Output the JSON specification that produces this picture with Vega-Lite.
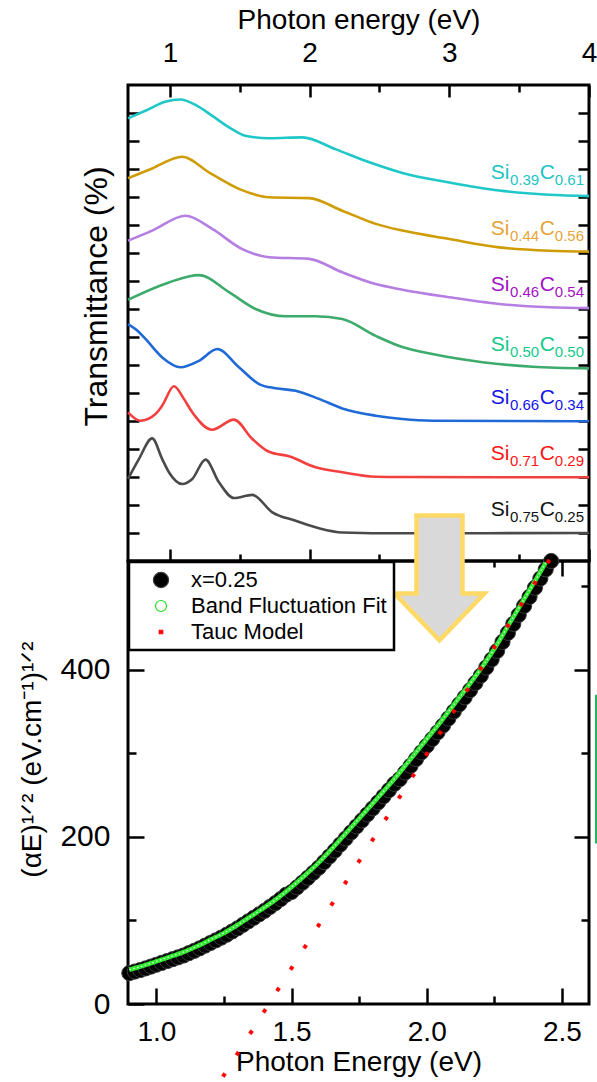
{
  "$schema": "https://vega.github.io/schema/vega-lite/v6.json",
  "padding": {"left": 17, "top": 4, "right": 0, "bottom": 0},
  "spacing": 0,
  "bounds": "flush",
  "datasets": {
    "trans": [
      {"s":"0.39","c":"0.61","E":0.70,"T":15.81},{"s":"0.39","c":"0.61","E":0.825,"T":16.08},{"s":"0.39","c":"0.61","E":0.966,"T":16.40},{"s":"0.39","c":"0.61","E":1.074,"T":16.48},{"s":"0.39","c":"0.61","E":1.183,"T":16.29},{"s":"0.39","c":"0.61","E":1.303,"T":15.90},{"s":"0.39","c":"0.61","E":1.423,"T":15.49},{"s":"0.39","c":"0.61","E":1.539,"T":15.19},{"s":"0.39","c":"0.61","E":1.711,"T":15.10},{"s":"0.39","c":"0.61","E":1.948,"T":15.13},{"s":"0.39","c":"0.61","E":2.184,"T":14.71},{"s":"0.39","c":"0.61","E":2.428,"T":14.24},{"s":"0.39","c":"0.61","E":2.664,"T":13.86},{"s":"0.39","c":"0.61","E":3.0,"T":13.52},{"s":"0.39","c":"0.61","E":3.357,"T":13.23},{"s":"0.39","c":"0.61","E":3.715,"T":13.08},{"s":"0.39","c":"0.61","E":4,"T":13.03},
      {"s":"0.44","c":"0.56","E":0.70,"T":13.67},{"s":"0.44","c":"0.56","E":0.873,"T":14.02},{"s":"0.44","c":"0.56","E":1.088,"T":14.44},{"s":"0.44","c":"0.56","E":1.279,"T":13.88},{"s":"0.44","c":"0.56","E":1.494,"T":13.29},{"s":"0.44","c":"0.56","E":1.709,"T":12.99},{"s":"0.44","c":"0.56","E":1.996,"T":12.96},{"s":"0.44","c":"0.56","E":2.234,"T":12.51},{"s":"0.44","c":"0.56","E":2.473,"T":12.04},{"s":"0.44","c":"0.56","E":2.664,"T":11.80},{"s":"0.44","c":"0.56","E":3.0,"T":11.50},{"s":"0.44","c":"0.56","E":3.357,"T":11.20},{"s":"0.44","c":"0.56","E":3.715,"T":11.08},{"s":"0.44","c":"0.56","E":4,"T":11.05},
      {"s":"0.46","c":"0.54","E":0.70,"T":11.44},{"s":"0.46","c":"0.54","E":0.873,"T":11.80},{"s":"0.46","c":"0.54","E":1.112,"T":12.33},{"s":"0.46","c":"0.54","E":1.303,"T":11.86},{"s":"0.46","c":"0.54","E":1.518,"T":11.14},{"s":"0.46","c":"0.54","E":1.709,"T":10.85},{"s":"0.46","c":"0.54","E":1.996,"T":10.79},{"s":"0.46","c":"0.54","E":2.234,"T":10.31},{"s":"0.46","c":"0.54","E":2.473,"T":9.89},{"s":"0.46","c":"0.54","E":2.664,"T":9.69},{"s":"0.46","c":"0.54","E":3.0,"T":9.42},{"s":"0.46","c":"0.54","E":3.357,"T":9.18},{"s":"0.46","c":"0.54","E":3.715,"T":9.06},{"s":"0.46","c":"0.54","E":4,"T":9.03},
      {"s":"0.50","c":"0.50","E":0.70,"T":9.33},{"s":"0.50","c":"0.50","E":0.993,"T":9.95},{"s":"0.50","c":"0.50","E":1.208,"T":10.21},{"s":"0.50","c":"0.50","E":1.423,"T":9.60},{"s":"0.50","c":"0.50","E":1.613,"T":9.00},{"s":"0.50","c":"0.50","E":1.828,"T":8.74},{"s":"0.50","c":"0.50","E":2.043,"T":8.74},{"s":"0.50","c":"0.50","E":2.234,"T":8.64},{"s":"0.50","c":"0.50","E":2.473,"T":8.04},{"s":"0.50","c":"0.50","E":2.664,"T":7.64},{"s":"0.50","c":"0.50","E":2.879,"T":7.39},{"s":"0.50","c":"0.50","E":3.237,"T":7.10},{"s":"0.50","c":"0.50","E":3.595,"T":6.94},{"s":"0.50","c":"0.50","E":4,"T":6.88},
      {"s":"0.66","c":"0.34","E":0.70,"T":8.46},{"s":"0.66","c":"0.34","E":0.766,"T":8.23},{"s":"0.66","c":"0.34","E":0.825,"T":7.93},{"s":"0.66","c":"0.34","E":0.945,"T":7.27},{"s":"0.66","c":"0.34","E":1.076,"T":6.92},{"s":"0.66","c":"0.34","E":1.208,"T":7.15},{"s":"0.66","c":"0.34","E":1.339,"T":7.57},{"s":"0.66","c":"0.34","E":1.494,"T":6.92},{"s":"0.66","c":"0.34","E":1.638,"T":6.32},{"s":"0.66","c":"0.34","E":1.756,"T":6.17},{"s":"0.66","c":"0.34","E":1.90,"T":6.08},{"s":"0.66","c":"0.34","E":2.067,"T":5.79},{"s":"0.66","c":"0.34","E":2.234,"T":5.45},{"s":"0.66","c":"0.34","E":2.473,"T":5.19},{"s":"0.66","c":"0.34","E":2.664,"T":5.07},{"s":"0.66","c":"0.34","E":2.879,"T":5.01},{"s":"0.66","c":"0.34","E":4,"T":4.99},
      {"s":"0.71","c":"0.29","E":0.70,"T":5.31},{"s":"0.71","c":"0.29","E":0.789,"T":5.01},{"s":"0.71","c":"0.29","E":0.897,"T":5.25},{"s":"0.71","c":"0.29","E":0.945,"T":5.55},{"s":"0.71","c":"0.29","E":1.029,"T":6.24},{"s":"0.71","c":"0.29","E":1.10,"T":5.79},{"s":"0.71","c":"0.29","E":1.16,"T":5.31},{"s":"0.71","c":"0.29","E":1.303,"T":4.69},{"s":"0.71","c":"0.29","E":1.458,"T":5.05},{"s":"0.71","c":"0.29","E":1.59,"T":4.36},{"s":"0.71","c":"0.29","E":1.709,"T":3.90},{"s":"0.71","c":"0.29","E":1.852,"T":3.74},{"s":"0.71","c":"0.29","E":2.043,"T":3.35},{"s":"0.71","c":"0.29","E":2.234,"T":3.17},{"s":"0.71","c":"0.29","E":2.473,"T":3.01},{"s":"0.71","c":"0.29","E":2.664,"T":3.00},{"s":"0.71","c":"0.29","E":4,"T":2.99},
      {"s":"0.75","c":"0.25","E":0.70,"T":2.93},{"s":"0.75","c":"0.25","E":0.778,"T":3.64},{"s":"0.75","c":"0.25","E":0.873,"T":4.38},{"s":"0.75","c":"0.25","E":0.945,"T":3.64},{"s":"0.75","c":"0.25","E":0.993,"T":3.17},{"s":"0.75","c":"0.25","E":1.088,"T":2.75},{"s":"0.75","c":"0.25","E":1.16,"T":2.93},{"s":"0.75","c":"0.25","E":1.255,"T":3.62},{"s":"0.75","c":"0.25","E":1.351,"T":2.81},{"s":"0.75","c":"0.25","E":1.458,"T":2.25},{"s":"0.75","c":"0.25","E":1.59,"T":2.36},{"s":"0.75","c":"0.25","E":1.733,"T":1.74},{"s":"0.75","c":"0.25","E":1.90,"T":1.44},{"s":"0.75","c":"0.25","E":2.067,"T":1.17},{"s":"0.75","c":"0.25","E":2.234,"T":1.02},{"s":"0.75","c":"0.25","E":2.664,"T":0.99},{"s":"0.75","c":"0.25","E":4,"T":1.00}
    ],
    "xdata": [
      {"series":"x=0.25","E":0.90,"A":37},{"series":"x=0.25","E":0.92,"A":38.8},{"series":"x=0.25","E":0.94,"A":40.6},{"series":"x=0.25","E":0.96,"A":42.6},{"series":"x=0.25","E":0.98,"A":44.8},{"series":"x=0.25","E":1.00,"A":47},{"series":"x=0.25","E":1.02,"A":49.2},{"series":"x=0.25","E":1.04,"A":51.4},{"series":"x=0.25","E":1.06,"A":53.6},{"series":"x=0.25","E":1.08,"A":55.8},{"series":"x=0.25","E":1.10,"A":58},{"series":"x=0.25","E":1.12,"A":60.8},{"series":"x=0.25","E":1.14,"A":63.6},{"series":"x=0.25","E":1.16,"A":66.6},{"series":"x=0.25","E":1.18,"A":69.8},{"series":"x=0.25","E":1.20,"A":73},{"series":"x=0.25","E":1.22,"A":76.2},{"series":"x=0.25","E":1.24,"A":79.4},{"series":"x=0.25","E":1.26,"A":82.9},{"series":"x=0.25","E":1.28,"A":86.7},{"series":"x=0.25","E":1.30,"A":90.5},{"series":"x=0.25","E":1.32,"A":94.7},{"series":"x=0.25","E":1.34,"A":98.9},{"series":"x=0.25","E":1.36,"A":103.1},{"series":"x=0.25","E":1.38,"A":107.3},{"series":"x=0.25","E":1.40,"A":111.5},{"series":"x=0.25","E":1.42,"A":116.1},{"series":"x=0.25","E":1.44,"A":120.7},{"series":"x=0.25","E":1.46,"A":125.6},{"series":"x=0.25","E":1.48,"A":130.8},{"series":"x=0.25","E":1.50,"A":134},{"series":"x=0.25","E":1.52,"A":139.6},{"series":"x=0.25","E":1.54,"A":145.2},{"series":"x=0.25","E":1.56,"A":151},{"series":"x=0.25","E":1.58,"A":157},{"series":"x=0.25","E":1.60,"A":163},{"series":"x=0.25","E":1.62,"A":169.8},{"series":"x=0.25","E":1.64,"A":176.6},{"series":"x=0.25","E":1.66,"A":183.6},{"series":"x=0.25","E":1.68,"A":190.8},{"series":"x=0.25","E":1.70,"A":198},{"series":"x=0.25","E":1.72,"A":205.2},{"series":"x=0.25","E":1.74,"A":212.4},{"series":"x=0.25","E":1.76,"A":219.6},{"series":"x=0.25","E":1.78,"A":226.8},{"series":"x=0.25","E":1.80,"A":234},{"series":"x=0.25","E":1.82,"A":241.2},{"series":"x=0.25","E":1.84,"A":248.4},{"series":"x=0.25","E":1.86,"A":255.8},{"series":"x=0.25","E":1.88,"A":263.4},{"series":"x=0.25","E":1.90,"A":269},{"series":"x=0.25","E":1.92,"A":277},{"series":"x=0.25","E":1.94,"A":285},{"series":"x=0.25","E":1.96,"A":293},{"series":"x=0.25","E":1.98,"A":301},{"series":"x=0.25","E":2.00,"A":309},{"series":"x=0.25","E":2.02,"A":317},{"series":"x=0.25","E":2.04,"A":325},{"series":"x=0.25","E":2.06,"A":333.2},{"series":"x=0.25","E":2.08,"A":341.6},{"series":"x=0.25","E":2.10,"A":350},{"series":"x=0.25","E":2.12,"A":358.4},{"series":"x=0.25","E":2.14,"A":366.8},{"series":"x=0.25","E":2.16,"A":375.4},{"series":"x=0.25","E":2.18,"A":384.2},{"series":"x=0.25","E":2.20,"A":393},{"series":"x=0.25","E":2.22,"A":402.6},{"series":"x=0.25","E":2.24,"A":412.2},{"series":"x=0.25","E":2.26,"A":422.4},{"series":"x=0.25","E":2.28,"A":433.2},{"series":"x=0.25","E":2.30,"A":444},{"series":"x=0.25","E":2.32,"A":454.8},{"series":"x=0.25","E":2.34,"A":465.6},{"series":"x=0.25","E":2.36,"A":476.4},{"series":"x=0.25","E":2.38,"A":487.2},{"series":"x=0.25","E":2.40,"A":498},{"series":"x=0.25","E":2.42,"A":509},{"series":"x=0.25","E":2.44,"A":520},{"series":"x=0.25","E":2.46,"A":530}
    ],
    "fit": [
      {"E":0.90,"A":41},{"E":0.95,"A":45.5},{"E":1.00,"A":51},{"E":1.05,"A":56.5},{"E":1.10,"A":62},{"E":1.15,"A":69},{"E":1.20,"A":77},{"E":1.25,"A":85},{"E":1.30,"A":94.5},{"E":1.35,"A":105},{"E":1.40,"A":115.5},{"E":1.45,"A":127},{"E":1.50,"A":140},{"E":1.55,"A":154},{"E":1.60,"A":169},{"E":1.65,"A":186},{"E":1.70,"A":204},{"E":1.75,"A":222},{"E":1.80,"A":240},{"E":1.85,"A":258},{"E":1.90,"A":277},{"E":1.95,"A":297},{"E":2.00,"A":317},{"E":2.05,"A":337},{"E":2.10,"A":358},{"E":2.15,"A":379},{"E":2.20,"A":401},{"E":2.25,"A":425},{"E":2.30,"A":452},{"E":2.35,"A":479},{"E":2.40,"A":506},{"E":2.44,"A":528}
    ],
    "tauc": [
      {"series":"Tauc Model","E":1.25,"A":-85.0},{"series":"Tauc Model","E":1.30,"A":-59.4},{"series":"Tauc Model","E":1.35,"A":-33.8},{"series":"Tauc Model","E":1.40,"A":-8.2},{"series":"Tauc Model","E":1.45,"A":17.4},{"series":"Tauc Model","E":1.50,"A":43.0},{"series":"Tauc Model","E":1.55,"A":68.6},{"series":"Tauc Model","E":1.60,"A":94.2},{"series":"Tauc Model","E":1.65,"A":119.8},{"series":"Tauc Model","E":1.70,"A":145.4},{"series":"Tauc Model","E":1.75,"A":171.0},{"series":"Tauc Model","E":1.80,"A":196.6},{"series":"Tauc Model","E":1.85,"A":222.2},{"series":"Tauc Model","E":1.90,"A":247.8},{"series":"Tauc Model","E":1.95,"A":273.4},{"series":"Tauc Model","E":2.00,"A":299.0},{"series":"Tauc Model","E":2.05,"A":324.6},{"series":"Tauc Model","E":2.10,"A":350.2},{"series":"Tauc Model","E":2.15,"A":375.8},{"series":"Tauc Model","E":2.20,"A":401.4},{"series":"Tauc Model","E":2.25,"A":427.0},{"series":"Tauc Model","E":2.30,"A":452.6},{"series":"Tauc Model","E":2.35,"A":478.2},{"series":"Tauc Model","E":2.40,"A":503.8},{"series":"Tauc Model","E":2.45,"A":529.4}
    ]
  },
  "vconcat": [
    {
      "width": 461,
      "height": 476,
      "data": {"name": "trans"},
      "layer": [
        {
          "mark": {"type": "line", "strokeWidth": 2.6, "interpolate": "monotone"},
          "encoding": {
            "x": {"field": "E", "type": "quantitative", "scale": {"domain": [0.7, 4], "nice": false, "zero": false},
                  "axis": {"orient": "top", "values": [1, 2, 3, 4], "format": "d", "tickSize": -12, "labelPadding": 30, "labelFontSize": 28, "title": "Photon energy (eV)", "titleFontSize": 28, "titlePadding": 5}},
            "y": {"field": "T", "type": "quantitative", "scale": {"domain": [0, 17], "nice": false, "zero": false},
                  "axis": {"orient": "left", "values": [1,2,3,4,5,6,7,8,9,10,11,12,13,14,15,16], "labels": false, "tickSize": -11, "title": "Transmittance (%)", "titleFontSize": 32, "titlePadding": 13, "titleY": 211}},
            "color": {"field": "s", "type": "nominal", "scale": {"domain": ["0.39","0.44","0.46","0.50","0.66","0.71","0.75"], "range": ["#1fc7c9","#cf9c06","#b47ee2","#3dab6c","#1f6ad6","#f2403f","#4a4a4a"]}, "legend": null}
          }
        },
        {
          "transform": [{"filter": "datum.E === 4"}],
          "mark": {"type": "text", "text": "Si", "align": "right", "baseline": "alphabetic", "dx": -79.5, "dy": -17, "fontSize": 21, "font": "Liberation Sans"},
          "encoding": {
            "x": {"field": "E", "type": "quantitative", "axis": {"orient": "bottom", "values": [1, 2, 3, 4], "labels": false, "tickSize": -12, "title": null}},
            "y": {"field": "T", "type": "quantitative", "axis": {"orient": "right", "values": [1,2,3,4,5,6,7,8,9,10,11,12,13,14,15,16], "labels": false, "tickSize": -11, "title": null}},
            "color": {"field": "s", "type": "nominal", "scale": {"domain": ["0.39","0.44","0.46","0.50","0.66","0.71","0.75"], "range": ["#1cc4c4","#e6a43a","#a312c4","#14c98a","#1414e6","#ff1414","#111111"]}, "legend": null}
          }
        },
        {
          "transform": [{"filter": "datum.E === 4"}],
          "mark": {"type": "text", "align": "right", "baseline": "alphabetic", "dx": -49.8, "dy": -11, "fontSize": 15, "font": "Liberation Sans"},
          "encoding": {
            "text": {"field": "s", "type": "nominal"},
            "x": {"field": "E", "type": "quantitative", "axis": {"orient": "top", "values": [1.5, 2.5, 3.5], "labels": false, "tickSize": -7, "title": null}},
            "y": {"field": "T", "type": "quantitative", "axis": null},
            "color": {"field": "s", "type": "nominal", "scale": {"domain": ["0.39","0.44","0.46","0.50","0.66","0.71","0.75"], "range": ["#1cc4c4","#e6a43a","#a312c4","#14c98a","#1414e6","#ff1414","#111111"]}, "legend": null}
          }
        },
        {
          "transform": [{"filter": "datum.E === 4"}],
          "mark": {"type": "text", "text": "C", "align": "right", "baseline": "alphabetic", "dx": -34.2, "dy": -17, "fontSize": 21, "font": "Liberation Sans"},
          "encoding": {
            "x": {"field": "E", "type": "quantitative", "axis": {"orient": "bottom", "values": [1.5, 2.5, 3.5], "labels": false, "tickSize": -7, "title": null}},
            "y": {"field": "T", "type": "quantitative", "axis": null},
            "color": {"field": "s", "type": "nominal", "scale": {"domain": ["0.39","0.44","0.46","0.50","0.66","0.71","0.75"], "range": ["#1cc4c4","#e6a43a","#a312c4","#14c98a","#1414e6","#ff1414","#111111"]}, "legend": null}
          }
        },
        {
          "transform": [{"filter": "datum.E === 4"}],
          "mark": {"type": "text", "align": "right", "baseline": "alphabetic", "dx": -5, "dy": -11, "fontSize": 15, "font": "Liberation Sans"},
          "encoding": {
            "text": {"field": "c", "type": "nominal"},
            "x": {"field": "E", "type": "quantitative", "axis": null},
            "y": {"field": "T", "type": "quantitative", "axis": null},
            "color": {"field": "s", "type": "nominal", "scale": {"domain": ["0.39","0.44","0.46","0.50","0.66","0.71","0.75"], "range": ["#1cc4c4","#e6a43a","#a312c4","#14c98a","#1414e6","#ff1414","#111111"]}, "legend": null}
          }
        }
      ],
      "resolve": {"axis": {"x": "independent", "y": "independent"}, "scale": {"color": "independent"}}
    },
    {
      "width": 461,
      "height": 443,
      "layer": [
        {
          "data": {"name": "xdata"},
          "mark": {"type": "point", "filled": true, "opacity": 1, "strokeWidth": 1},
          "encoding": {
            "x": {"field": "E", "type": "quantitative", "scale": {"domain": [0.895, 2.6], "nice": false, "zero": false},
                  "axis": {"orient": "bottom", "values": [1, 1.5, 2, 2.5], "format": ".1f", "tickSize": -16, "labelPadding": 30, "labelFontSize": 28, "title": "Photon Energy (eV)", "titleFontSize": 28, "titlePadding": 2}},
            "y": {"field": "A", "type": "quantitative", "scale": {"domain": [0, 530], "nice": false, "zero": false},
                  "axis": {"orient": "left", "values": [0, 200, 400], "format": "d", "tickSize": -16, "labelPadding": 34, "labelFontSize": 30, "title": "(αE)¹ᐟ² (eV.cm⁻¹)¹ᐟ²", "titleFontSize": 28, "titlePadding": 13, "titleY": 198}},
            "fill": {"field": "series", "type": "nominal", "scale": {"domain": ["x=0.25", "Band Fluctuation Fit", "Tauc Model"], "range": ["#000000", "#ffffff", "#ff0000"]},
                     "legend": {"orient": "none", "legendX": 1, "legendY": 477, "title": null}},
            "stroke": {"field": "series", "type": "nominal", "scale": {"domain": ["x=0.25", "Band Fluctuation Fit", "Tauc Model"], "range": ["#3a3a3a", "#22dd22", "#ff0000"]}},
            "shape": {"field": "series", "type": "nominal", "scale": {"domain": ["x=0.25", "Band Fluctuation Fit", "Tauc Model"], "range": ["circle", "circle", "square"]}},
            "size": {"field": "series", "type": "ordinal", "scale": {"domain": ["x=0.25", "Band Fluctuation Fit", "Tauc Model"], "range": [230, 12, 36]}}
          }
        },
        {
          "data": {"name": "fit"},
          "mark": {"type": "line", "color": "#2fe82f", "strokeWidth": 4.5, "interpolate": "monotone"},
          "encoding": {
            "x": {"field": "E", "type": "quantitative", "axis": {"orient": "bottom", "values": [1.25, 1.75, 2.25], "labels": false, "tickSize": -8, "title": null}},
            "y": {"field": "A", "type": "quantitative", "axis": {"orient": "left", "values": [100, 300, 500], "labels": false, "tickSize": -8, "title": null}}
          }
        },
        {
          "data": {"name": "fit"},
          "mark": {"type": "line", "color": "#d8ffd8", "strokeWidth": 1.3, "strokeDash": [1.5, 2.5], "interpolate": "monotone"},
          "encoding": {
            "x": {"field": "E", "type": "quantitative", "axis": {"orient": "top", "values": [1, 1.5, 2, 2.5], "labels": false, "tickSize": -15, "title": null}},
            "y": {"field": "A", "type": "quantitative", "axis": {"orient": "right", "values": [200, 400], "labels": false, "tickSize": -15, "title": null}}
          }
        },
        {
          "data": {"name": "tauc"},
          "mark": {"type": "point", "filled": true, "opacity": 1, "angle": 32, "strokeWidth": 0.5},
          "encoding": {
            "x": {"field": "E", "type": "quantitative", "axis": {"orient": "top", "values": [1.25, 1.75, 2.25], "labels": false, "tickSize": -6, "title": null}},
            "y": {"field": "A", "type": "quantitative", "axis": {"orient": "right", "values": [100, 300, 500], "labels": false, "tickSize": -8, "title": null}},
            "fill": {"field": "series", "type": "nominal"},
            "stroke": {"field": "series", "type": "nominal"},
            "shape": {"field": "series", "type": "nominal"},
            "size": {"field": "series", "type": "ordinal"}
          }
        },
        {
          "data": {"values": [{}]},
          "mark": {"type": "point", "shape": "M-0.354,-0.97L0.354,-0.97L0.354,0.23L0.69,0.23L0,0.95L-0.69,0.23L-0.354,0.23Z", "size": 16900, "filled": true, "fill": "#d9d9d9", "stroke": "#ffd966", "strokeWidth": 4.5, "opacity": 1},
          "encoding": {
            "x": {"datum": 2.047, "type": "quantitative", "axis": null},
            "y": {"datum": 509, "type": "quantitative", "axis": null}
          }
        },
        {
          "data": {"values": [{}]},
          "mark": {"type": "rule", "color": "#1fb05a", "strokeWidth": 3},
          "encoding": {
            "x": {"datum": 2.628, "type": "quantitative", "axis": null},
            "y": {"datum": 192, "type": "quantitative", "axis": null},
            "y2": {"datum": 370}
          }
        }
      ],
      "resolve": {"axis": {"x": "independent", "y": "independent"}}
    }
  ],
  "config": {
    "view": {"stroke": "black", "strokeWidth": 3},
    "axis": {"domain": false, "grid": false, "tickColor": "black", "tickWidth": 2.5, "labelFont": "Liberation Sans", "titleFont": "Liberation Sans", "labelColor": "black", "titleColor": "black", "titleFontWeight": "normal", "labelFlush": false, "labelOverlap": false, "labelBound": false},
    "legend": {"fillColor": "white", "strokeColor": "black", "strokeWidth": 2.5, "padding": 7, "rowPadding": 4, "labelFontSize": 22, "labelFont": "Liberation Sans", "labelColor": "black", "symbolOffset": 14, "labelOffset": 19, "symbolStrokeWidth": 1.2, "labelLimit": 400}
  }
}
